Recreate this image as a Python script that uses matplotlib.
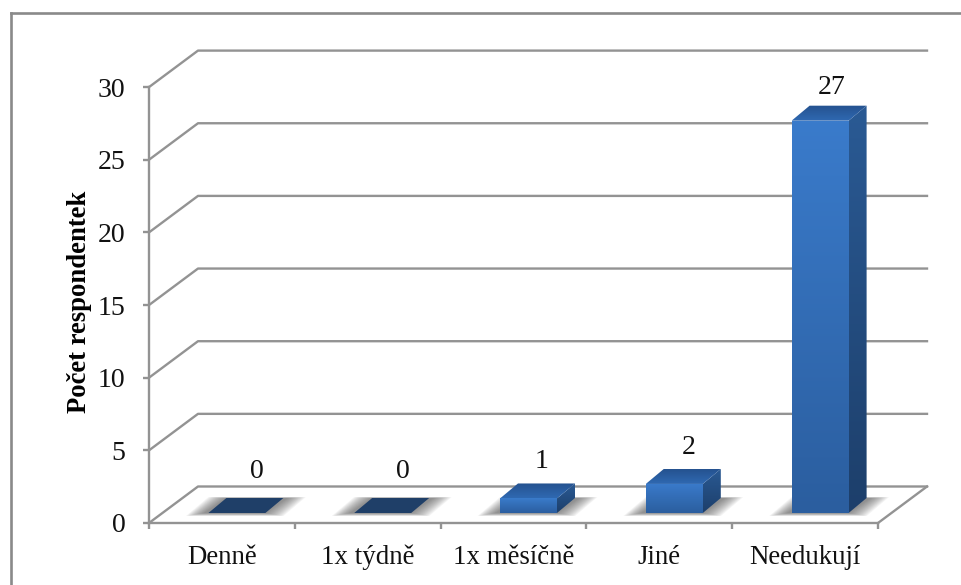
import numpy as np
import matplotlib
matplotlib.use('Agg')
import matplotlib.pyplot as plt
from matplotlib.lines import Line2D
from matplotlib.patches import Polygon

plt.rcParams['font.family'] = ['Liberation Serif', 'DejaVu Sans']

# chart data
categories = ['Denně', '1x týdně', '1x měsíčně', 'Jiné', 'Needukují']
values = [0, 0, 1, 2, 27]
y_ticks = [0, 5, 10, 15, 20, 25, 30]
y_label = 'Počet respondentek'

W, H = 962, 585
CAT_PX = 145.8
UNIT_PX = 14.53
GREY = '#939393'

fig = plt.figure(figsize=(W / 100, H / 100), dpi=100, facecolor='white')
ax_l, ax_r, ax_b, ax_t = 149, 945, H - 523, H - 35
ax = fig.add_axes([ax_l / W, ax_b / H, (ax_r - ax_l) / W, (ax_t - ax_b) / H])
ax.patch.set_alpha(0)

# oblique depth of the floor and of the bars, in data units
wall_dx = 49 / CAT_PX
wall_dy = 36.5 / UNIT_PX
bar_w = 57 / CAT_PX
bar_dx = 18 / CAT_PX
bar_dy = 15 / UNIT_PX
front_dx = 15 / CAT_PX
front_dy = 10 / UNIT_PX

# distance of the value labels above the bars
label_gap = [1.8, 1.8, 1.5, 1.5, 1.25]
label_shift = [35, 35, 28, 29, 27]

x_left, x_right = -0.5, len(categories) - 0.5

# outer frame of the chart area
for xs, ys in (([11, 11], [0, H - 13]), ([11, W], [H - 13, H - 13])):
    fig.add_artist(Line2D(np.array(xs) / W, np.array(ys) / H, color='#8a8a8a', lw=1.9))

# gridlines running back along the wall
for t in y_ticks:
    ax.plot([x_left, x_left + wall_dx, x_right + wall_dx],
            [t, t + wall_dy, t + wall_dy], color=GREY, lw=1.7, clip_on=False, zorder=1)
ax.plot([x_right, x_right + wall_dx], [0, wall_dy], color=GREY, lw=1.7, clip_on=False, zorder=1)


def gradient_face(corners, top_colour, bottom_colour, z):
    # vertical colour gradient clipped to a polygon
    corners = np.array(corners)
    c1 = np.array(matplotlib.colors.to_rgb(top_colour))
    c2 = np.array(matplotlib.colors.to_rgb(bottom_colour))
    t = np.linspace(0, 1, 64)[:, None, None]
    img = c1[None, None, :] * (1 - t) + c2[None, None, :] * t
    im = ax.imshow(img, aspect='auto', zorder=z, interpolation='bilinear',
                   extent=[corners[:, 0].min(), corners[:, 0].max(),
                           corners[:, 1].min(), corners[:, 1].max()])
    poly = Polygon(corners, closed=True, transform=ax.transData, fc='none', ec='none')
    ax.add_patch(poly)
    im.set_clip_path(poly)


def floor_shadow(x0):
    # soft grey shadow on the floor, built from stacked parallelograms
    y0 = front_dy
    for grow in np.linspace(1, 0, 14):
        gx = grow * 18 / CAT_PX
        gy = grow * 3 / UNIT_PX
        ax.add_patch(Polygon([(x0 - gx - 0.03, y0 - gy), (x0 + bar_w + gx, y0 - gy),
                              (x0 + bar_w + bar_dx + gx + 0.03, y0 + bar_dy + gy * 0.3),
                              (x0 + bar_dx - gx, y0 + bar_dy + gy * 0.3)],
                             closed=True, fc='#555555', ec='none', alpha=0.065, zorder=2))


for i, v in enumerate(values):
    x0 = i + front_dx - bar_w / 2
    x1 = x0 + bar_w
    y0 = front_dy
    y1 = y0 + v
    floor_shadow(x0)
    if v == 0:
        ax.add_patch(Polygon([(x0, y0), (x1, y0), (x1 + bar_dx, y0 + bar_dy), (x0 + bar_dx, y0 + bar_dy)],
                             closed=True, fc='#1f3f68', ec='none', zorder=3))
    else:
        gradient_face([(x1, y0), (x1 + bar_dx, y0 + bar_dy), (x1 + bar_dx, y1 + bar_dy), (x1, y1)],
                      '#2a5a94', '#1d3f6b', 3)
        gradient_face([(x0, y1), (x1, y1), (x1 + bar_dx, y1 + bar_dy), (x0 + bar_dx, y1 + bar_dy)],
                      '#25528f', '#2f69b2', 3)
        gradient_face([(x0, y0), (x1, y0), (x1, y1), (x0, y1)],
                      '#3a7bcb', '#2b5e9f', 4)
    # value label above the bar
    ax.text(i + label_shift[i] / CAT_PX, y1 + bar_dy + label_gap[i], str(v), ha='center', va='center',
            fontsize=20, color='#111111', zorder=6)

ax.set_xlim(x_left, x_left + (ax_r - ax_l) / CAT_PX)
ax.set_ylim(0, (ax_t - ax_b) / UNIT_PX)

# axes, ticks and labels
for name in ('top', 'right'):
    ax.spines[name].set_visible(False)
for name in ('left', 'bottom'):
    ax.spines[name].set_color(GREY)
    ax.spines[name].set_linewidth(1.7)
ax.spines['left'].set_bounds(0, 30)
ax.spines['bottom'].set_bounds(x_left, x_right)
ax.set_yticks(y_ticks)
ax.set_xticks(np.arange(len(categories) + 1) - 0.5)
ax.set_xticklabels([])
ax.set_xticks(np.arange(len(categories)), minor=True)
ax.set_xticklabels(categories, minor=True)
ax.tick_params(axis='both', which='major', color=GREY, width=1.7, length=4.5)
ax.tick_params(axis='x', which='minor', length=0, pad=15.5, labelsize=19.4, labelcolor='#111111')
ax.tick_params(axis='y', labelsize=20, labelcolor='#111111', pad=12.5)
fig.text(79 / W, 1 - 302 / H, y_label, rotation=90, ha='center', va='center',
         fontsize=19.2, fontweight='bold', color='black')

fig.savefig('out.png', dpi=100)
